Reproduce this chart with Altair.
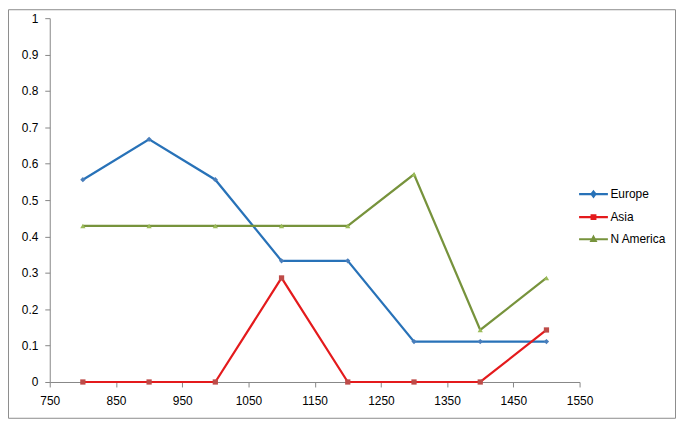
import altair as alt
import pandas as pd

years = [800, 900, 1000, 1100, 1200, 1300, 1400, 1500]
series_names = ["Europe", "Asia", "N America"]
europe = [0.556, 0.667, 0.556, 0.333, 0.333, 0.111, 0.111, 0.111]
asia = [0.0, 0.0, 0.0, 0.286, 0.0, 0.0, 0.0, 0.143]
n_america = [0.429, 0.429, 0.429, 0.429, 0.429, 0.571, 0.143, 0.286]

x_ticks = [750, 850, 950, 1050, 1150, 1250, 1350, 1450, 1550]
y_ticks = [0, 0.1, 0.2, 0.3, 0.4, 0.5, 0.6, 0.7, 0.8, 0.9, 1]

line_colors = ["#2872b8", "#e41a1c", "#77933c"]
marker_colors = ["#4a7ebb", "#be4b48", "#9bbb59"]
marker_shapes = ["diamond", "square", "triangle-up"]
legend_shapes = [
    "M-1.5,0H1.5M0,-0.26L0.2,0L0,0.26L-0.2,0Z",
    "M-1.5,0H1.5M-0.19,-0.19H0.19V0.19H-0.19Z",
    "M-1.5,0H1.5M0,-0.24L0.22,0.18H-0.22Z",
]

rows = []
for name, vals in zip(series_names, [europe, asia, n_america]):
    for yr, v in zip(years, vals):
        rows.append({"year": yr, "series": name, "value": v})
df = pd.DataFrame(rows)

FONT = "Liberation Sans"

x_enc = alt.X(
    "year:Q",
    scale=alt.Scale(domain=[750, 1550], nice=False, zero=False),
    axis=alt.Axis(values=x_ticks, title=None, grid=False, tickSize=5,
                  labelPadding=9, labelFlush=False, format="d"),
)
y_enc = alt.Y(
    "value:Q",
    scale=alt.Scale(domain=[0, 1], nice=False),
    axis=alt.Axis(values=y_ticks, title=None, grid=False, tickSize=5,
                  labelPadding=7, format="~g"),
)

base = alt.Chart(df)
fill_scale = alt.Scale(domain=series_names, range=marker_colors)
stroke_scale = alt.Scale(domain=series_names, range=line_colors)
shape_scale = alt.Scale(domain=series_names, range=legend_shapes)

leg = alt.Legend(
    title=None, orient="none", legendX=536, legendY=166,
    labelFont=FONT, labelFontSize=12, labelColor="#000000",
    symbolStrokeWidth=2.25, symbolSize=373, rowPadding=4.2, labelOffset=6, padding=0,
    symbolOpacity=1,
)

lines = base.mark_line(strokeWidth=2.25).encode(
    x=x_enc, y=y_enc,
    stroke=alt.Stroke("series:N", scale=stroke_scale, legend=leg),
    order=alt.Order("year:Q"),
)

point_layers = []
for name, shp in zip(series_names, marker_shapes):
    point_layers.append(
        base.transform_filter(alt.datum.series == name)
        .mark_point(filled=True, size=28, opacity=1, shape=shp, strokeWidth=0)
        .encode(x=x_enc, y=y_enc,
                fill=alt.Fill("series:N", scale=fill_scale, legend=leg))
    )

dummy = base.transform_filter(alt.datum.value < -1).mark_point(
    filled=True, size=373, opacity=1, strokeWidth=2.25
).encode(
    x=x_enc, y=y_enc,
    stroke=alt.Stroke("series:N", scale=stroke_scale, legend=leg),
    fill=alt.Fill("series:N", scale=fill_scale, legend=leg),
    shape=alt.Shape("series:N", scale=shape_scale, legend=leg),
)

frame = alt.Chart(pd.DataFrame({"k": [0]})).mark_rect(
    fill=None, stroke="#8c8c8c", strokeWidth=1
).encode(
    x=alt.value(-41.5), x2=alt.value(629.5), y=alt.value(-8.5), y2=alt.value(402.5)
)

chart = alt.layer(frame, dummy, lines, *point_layers).properties(
    width=533, height=366,
    autosize=alt.AutoSizeParams(type="none"),
    padding={"left": 42, "top": 9, "right": 97, "bottom": 37},
).configure_view(stroke=None).configure_axis(
    domainColor="#868686", tickColor="#868686", domainWidth=1, tickWidth=1,
    labelFont=FONT, labelFontSize=12, labelColor="#000000",
)

chart.save("out.html", embed_options={"renderer": "svg", "actions": False})
